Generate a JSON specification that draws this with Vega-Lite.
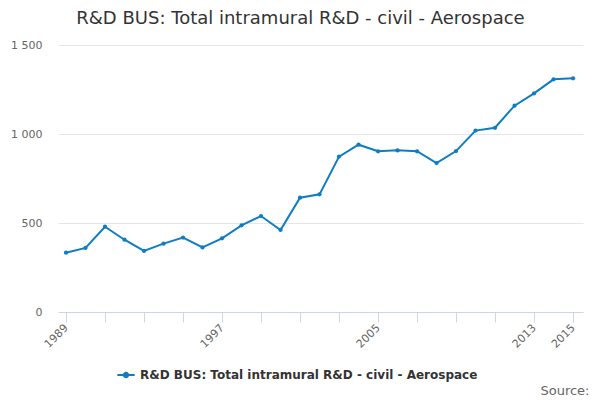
{
  "$schema": "https://vega.github.io/schema/vega-lite/v6.json",
  "width": 525,
  "height": 267,
  "autosize": {"type": "none"},
  "padding": {"left": 58, "top": 45, "right": 17, "bottom": 88},
  "background": "white",
  "config": {
    "font": "DejaVu Sans",
    "view": {"stroke": null}
  },
  "title": {
    "text": "R&D BUS: Total intramural R&D - civil - Aerospace",
    "fontSize": 18,
    "fontWeight": "normal",
    "color": "#333333",
    "anchor": "middle",
    "dx": -20,
    "offset": 11
  },
  "data": {
    "values": [
      {"year": 1989, "value": 333, "series": "R&D BUS: Total intramural R&D - civil - Aerospace"},
      {"year": 1990, "value": 360, "series": "R&D BUS: Total intramural R&D - civil - Aerospace"},
      {"year": 1991, "value": 479, "series": "R&D BUS: Total intramural R&D - civil - Aerospace"},
      {"year": 1992, "value": 406, "series": "R&D BUS: Total intramural R&D - civil - Aerospace"},
      {"year": 1993, "value": 343, "series": "R&D BUS: Total intramural R&D - civil - Aerospace"},
      {"year": 1994, "value": 384, "series": "R&D BUS: Total intramural R&D - civil - Aerospace"},
      {"year": 1995, "value": 418, "series": "R&D BUS: Total intramural R&D - civil - Aerospace"},
      {"year": 1996, "value": 363, "series": "R&D BUS: Total intramural R&D - civil - Aerospace"},
      {"year": 1997, "value": 414, "series": "R&D BUS: Total intramural R&D - civil - Aerospace"},
      {"year": 1998, "value": 487, "series": "R&D BUS: Total intramural R&D - civil - Aerospace"},
      {"year": 1999, "value": 539, "series": "R&D BUS: Total intramural R&D - civil - Aerospace"},
      {"year": 2000, "value": 461, "series": "R&D BUS: Total intramural R&D - civil - Aerospace"},
      {"year": 2001, "value": 642, "series": "R&D BUS: Total intramural R&D - civil - Aerospace"},
      {"year": 2002, "value": 661, "series": "R&D BUS: Total intramural R&D - civil - Aerospace"},
      {"year": 2003, "value": 873, "series": "R&D BUS: Total intramural R&D - civil - Aerospace"},
      {"year": 2004, "value": 940, "series": "R&D BUS: Total intramural R&D - civil - Aerospace"},
      {"year": 2005, "value": 903, "series": "R&D BUS: Total intramural R&D - civil - Aerospace"},
      {"year": 2006, "value": 908, "series": "R&D BUS: Total intramural R&D - civil - Aerospace"},
      {"year": 2007, "value": 903, "series": "R&D BUS: Total intramural R&D - civil - Aerospace"},
      {"year": 2008, "value": 837, "series": "R&D BUS: Total intramural R&D - civil - Aerospace"},
      {"year": 2009, "value": 904, "series": "R&D BUS: Total intramural R&D - civil - Aerospace"},
      {"year": 2010, "value": 1019, "series": "R&D BUS: Total intramural R&D - civil - Aerospace"},
      {"year": 2011, "value": 1035, "series": "R&D BUS: Total intramural R&D - civil - Aerospace"},
      {"year": 2012, "value": 1159, "series": "R&D BUS: Total intramural R&D - civil - Aerospace"},
      {"year": 2013, "value": 1228, "series": "R&D BUS: Total intramural R&D - civil - Aerospace"},
      {"year": 2014, "value": 1307, "series": "R&D BUS: Total intramural R&D - civil - Aerospace"},
      {"year": 2015, "value": 1313, "series": "R&D BUS: Total intramural R&D - civil - Aerospace"}
    ]
  },
  "mark": {
    "type": "line",
    "strokeWidth": 2,
    "point": {"filled": true, "size": 18}
  },
  "encoding": {
    "x": {
      "field": "year",
      "type": "quantitative",
      "scale": {"domain": [1988.59, 2015.51], "nice": false, "zero": false},
      "axis": {
        "values": [1989, 1991, 1993, 1995, 1997, 1999, 2001, 2003, 2005, 2007, 2009, 2011, 2013, 2015],
        "labelExpr": "indexof([1989, 1997, 2005, 2013, 2015], datum.value) >= 0 ? '' + datum.value : ''",
        "labelAngle": -45,
        "labelAlign": "right",
        "labelBaseline": "middle",
        "labelFontSize": 11,
        "labelColor": "#666666",
        "labelPadding": 4,
        "labelOverlap": false,
        "domainColor": "#ccd6eb",
        "tickColor": "#ccd6eb",
        "tickSize": 10,
        "grid": false,
        "title": "Source:",
        "titleFontSize": 13,
        "titleFontWeight": "normal",
        "titleColor": "#666666",
        "titleAlign": "right",
        "titleAnchor": "end",
        "titleX": 531,
        "titleY": 72
      }
    },
    "y": {
      "field": "value",
      "type": "quantitative",
      "scale": {"domain": [0, 1500], "nice": false},
      "axis": {
        "values": [0, 500, 1000, 1500],
        "labelExpr": "replace(format(datum.value, ','), ',', ' ')",
        "labelFontSize": 11,
        "labelColor": "#666666",
        "labelPadding": 16,
        "domain": false,
        "ticks": false,
        "gridColor": "#e6e6e6",
        "title": null
      }
    },
    "color": {
      "field": "series",
      "type": "nominal",
      "scale": {"range": ["#0f7dc2"]},
      "legend": {
        "title": null,
        "orient": "none",
        "legendX": 58,
        "legendY": 320,
        "labelLimit": 1000,
        "symbolType": "M-1,0L1,0M-0.25,0a0.25,0.25 0 1,0 0.5,0a0.25,0.25 0 1,0 -0.5,0",
        "symbolSize": 300,
        "symbolStrokeWidth": 2,
        "symbolFillColor": "#0f7dc2",
        "labelFontSize": 12,
        "labelFontWeight": "bold",
        "labelColor": "#333333",
        "labelOffset": 4
      }
    }
  }
}
